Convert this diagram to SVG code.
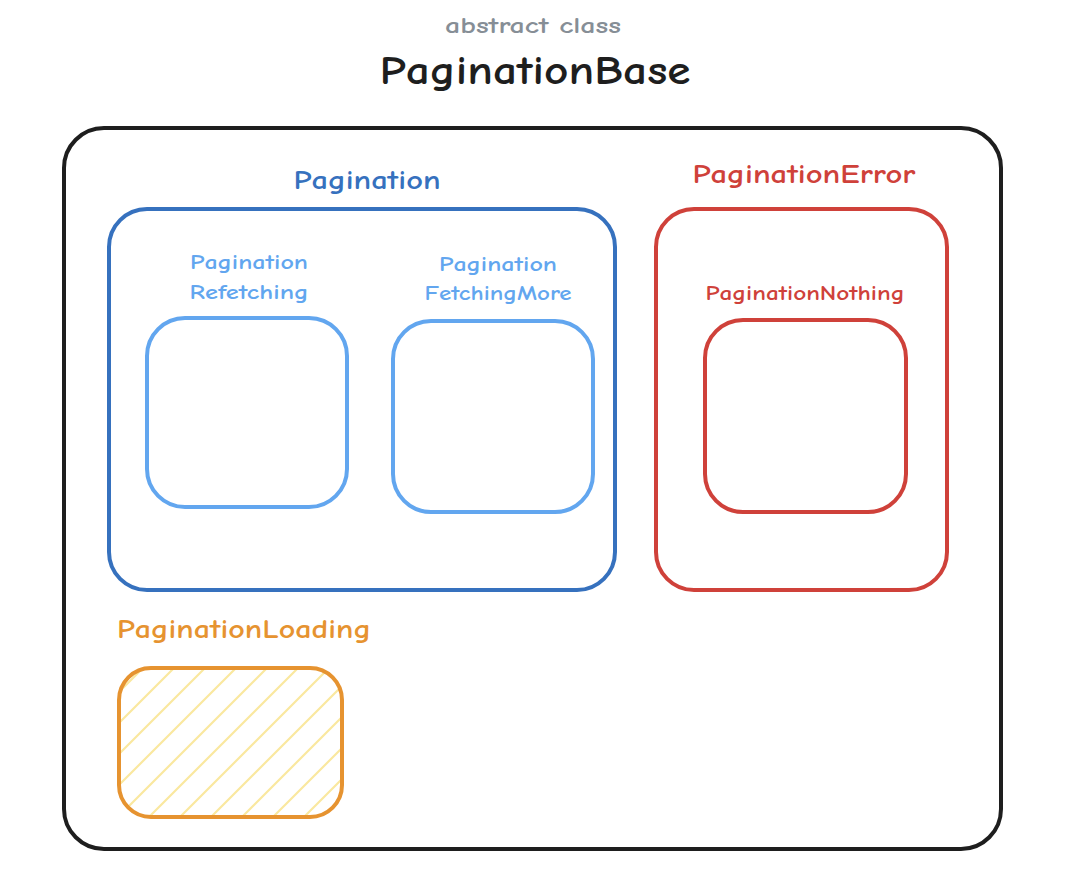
<svg xmlns="http://www.w3.org/2000/svg" width="1070" height="886" viewBox="0 0 1070 886">
<style>
text{font-family:"Comic Neue","Lato","Liberation Sans",sans-serif;text-anchor:middle;font-weight:bold}
.box{fill:none;stroke-width:4;stroke-linejoin:round}
.blk{stroke:#1e1e1e}
.blue{stroke:#3671be}
.lblue{stroke:#62a6ef}
.red{stroke:#cf413a}
.org{stroke:#e69330}
</style>
<defs>
<pattern id="hatch" patternUnits="userSpaceOnUse" x="5" y="0" width="31" height="31">
<path d="M0,31 L31,0 M-8,8 L8,-8 M23,39 L39,23" stroke="#fae89f" stroke-width="2.2" fill="none"/>
</pattern>
</defs>
<rect width="1070" height="886" fill="#ffffff"/>
<g id="title">
<text x="533" y="33" font-size="22" fill="#868e96" textLength="176" lengthAdjust="spacingAndGlyphs">abstract class</text>
<text x="535" y="84" font-size="40" fill="#1e1e1e" textLength="311" lengthAdjust="spacingAndGlyphs">PaginationBase</text>
</g>
<g id="PaginationBase">
<rect class="box blk" x="64" y="128" width="937" height="721" rx="40"/>
</g>
<g id="Pagination">
<rect class="box blue" x="109" y="209" width="506" height="381" rx="38"/>
<text x="367" y="189" font-size="26" fill="#3671be" textLength="147" lengthAdjust="spacingAndGlyphs">Pagination</text>
</g>
<g id="PaginationRefetching">
<rect class="box lblue" x="147" y="318" width="200" height="189" rx="38"/>
<text x="249" y="269" font-size="20" fill="#62a6ef" textLength="118" lengthAdjust="spacingAndGlyphs">Pagination</text>
<text x="249" y="299" font-size="20" fill="#62a6ef" textLength="119" lengthAdjust="spacingAndGlyphs">Refetching</text>
</g>
<g id="PaginationFetchingMore">
<rect class="box lblue" x="393" y="321" width="200" height="191" rx="38"/>
<text x="498" y="271" font-size="20" fill="#62a6ef" textLength="118" lengthAdjust="spacingAndGlyphs">Pagination</text>
<text x="498" y="300" font-size="20" fill="#62a6ef" textLength="147" lengthAdjust="spacingAndGlyphs">FetchingMore</text>
</g>
<g id="PaginationError">
<rect class="box red" x="656" y="209" width="291" height="381" rx="38"/>
<text x="804" y="183" font-size="26" fill="#cf413a" textLength="223" lengthAdjust="spacingAndGlyphs">PaginationError</text>
</g>
<g id="PaginationNothing">
<rect class="box red" x="705" y="320" width="201" height="192" rx="38"/>
<text x="805" y="300" font-size="20" fill="#cf413a" textLength="199" lengthAdjust="spacingAndGlyphs">PaginationNothing</text>
</g>
<g id="PaginationLoading">
<rect x="119" y="668" width="223" height="149" rx="32" fill="url(#hatch)"/>
<rect class="box org" x="119" y="668" width="223" height="149" rx="32"/>
<text x="244" y="638" font-size="26" fill="#e69330" textLength="254" lengthAdjust="spacingAndGlyphs">PaginationLoading</text>
</g>
<g id="connectors"/>
</svg>
